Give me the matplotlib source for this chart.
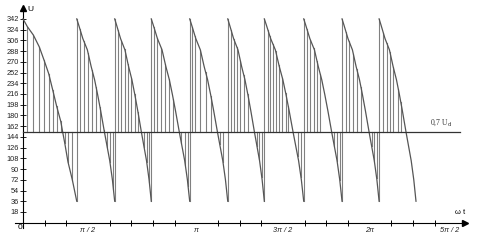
import matplotlib
matplotlib.use("Agg")
import matplotlib.pyplot as plt
import numpy as np

# --- data (x in degrees of wt, U in volts) ---
u_top = 342
u_bottom = 36
u_level = 152          # 0,7 Ud

# first (longer) branch, starting at wt = 0
first_x = [0, 4.5, 10.7, 16.9, 21.8, 26.7, 30.8, 35.0, 39.2, 41.2, 43.3, 46.7, 51.2, 55.8]
first_u = [342, 329, 315, 295, 273, 250, 223, 195, 170, 152, 134, 102, 72, 36]

# the following branches share one shape (fraction of branch length -> U)
shape_f = [0, 0.05, 0.16, 0.28, 0.38, 0.47, 0.55, 0.63, 0.73, 0.80, 0.87, 0.94, 1.0]
shape_u = [342, 332, 309, 290, 262, 240, 215, 188, 152, 128, 104, 72, 36]
peaks = [55.8, 95.2, 133.2, 173.1, 212.6, 250.6, 291.5, 331.3, 369.8]
last_end = 408.1

# vertical hatch lines inside each branch
hatches = [
    [4.5, 10.7, 16.9, 21.8, 26.7, 30.8, 35.0, 39.2, 43.3, 46.7, 51.2],
    [59.2, 63.3, 67.5, 71.7, 75.8, 80.0, 84.1, 87.5, 90.3, 93.8],
    [98.7, 102.1, 105.6, 109.0, 112.5, 116.0, 119.4, 125.7, 128.5, 131.2],
    [136.0, 139.5, 143.6, 147.8, 151.9, 156.1, 164.4, 168.5, 171.4],
    [175.8, 178.6, 184.1, 189.7, 195.2, 204.3, 207.7],
    [216.0, 218.8, 222.2, 225.7, 229.2, 233.3, 243.0, 245.4, 247.9],
    [254.4, 256.4, 259.6, 262.4, 265.8, 269.3, 272.8, 275.5, 285.3, 288.7],
    [294.9, 298.4, 301.9, 305.3, 308.7, 323.3, 326.1, 328.9],
    [335.4, 338.6, 343.0, 346.6, 351.0, 362.1, 364.8, 367.3],
    [374.2, 377.7, 381.1, 384.5, 389.7, 392.2],
]

y_ticks = list(range(18, 343, 18))
x_minor = [22.5 * k for k in range(1, 20)]
x_label_pos = [67.5, 180, 270, 360, 443]
x_labels = ["π / 2", "π", "3π / 2", "2π", "5π / 2"]

# --- figure ---
plt.rcParams['font.family'] = ['Liberation Sans', 'DejaVu Sans']
fig = plt.figure(figsize=(4.99, 2.42), dpi=100)
ax = fig.add_axes([0, 0, 1, 1])
ax.set_xlim(-23.9, 494.3)
ax.set_ylim(-32.4, 373.7)

curve_c = '#555555'
hatch_c = '#808080'

# build the branches
branches = [(np.array(first_x), np.array(first_u))]
ends = peaks[1:] + [last_end]
for p, e in zip(peaks, ends):
    bx = p + np.array(shape_f) * (e - p)
    branches.append((bx, np.array(shape_u)))

for bx, bu in branches:
    ax.plot(bx, bu, color=curve_c, lw=0.9, zorder=3)

# jumps from bottom to top at each new branch
for p in peaks:
    ax.plot([p, p], [u_bottom, u_top], color=hatch_c, lw=0.8, zorder=2)

# hatching between 0,7 Ud and the curve
for (bx, bu), hx in zip(branches, hatches):
    for h in hx:
        uh = np.interp(h, bx, bu)
        ax.plot([h, h], [u_level, uh], color=hatch_c, lw=0.8, zorder=2)

ax.plot([0, 453.8], [u_level, u_level], color='#333333', lw=0.9, zorder=4)
ax.text(422.7, 168, "0,7 U$_{\\rm d}$", fontsize=5.5, family='Liberation Serif',
        ha='left', va='center', color='#333333')

# axes through the origin
for side in ['top', 'right']:
    ax.spines[side].set_visible(False)
ax.spines['left'].set_position(('data', 0))
ax.spines['bottom'].set_position(('data', 0))
ax.spines['left'].set_bounds(-9, 360)
ax.spines['bottom'].set_bounds(-8.3, 458)
ax.spines['left'].set_linewidth(0.8)
ax.spines['bottom'].set_linewidth(0.8)
ax.plot([0], [361], marker='^', color='black', ms=4, clip_on=False)
ax.plot([459], [0], marker='>', color='black', ms=4, clip_on=False)

ax.set_yticks(y_ticks)
ax.set_yticklabels([str(v) for v in y_ticks])
ax.tick_params(axis='y', direction='inout', length=4, width=0.7, labelsize=5.3,
               pad=1, colors='#222222')
ax.set_xticks(x_minor, minor=True)
ax.set_xticks(x_label_pos)
ax.set_xticklabels(x_labels, fontstyle='italic')
ax.tick_params(axis='x', which='minor', direction='inout', length=4, width=0.7)
ax.tick_params(axis='x', which='major', length=0, labelsize=5.3, pad=3,
               colors='#222222')

ax.text(-3.1, -7.5, "0", fontsize=6, ha='center', va='center')
ax.text(4.7, 358, "U", fontsize=6, ha='left', va='center')
ax.text(453.5, 17.4, "ω t", fontsize=5.5, ha='center', va='center')

fig.savefig("out.png", dpi=100)
